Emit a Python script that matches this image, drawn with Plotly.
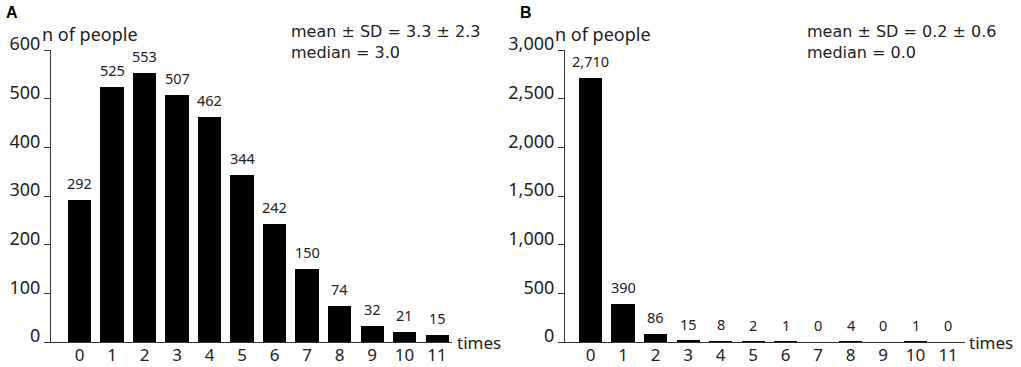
import plotly.graph_objects as go

categories = ["0", "1", "2", "3", "4", "5", "6", "7", "8", "9", "10", "11"]
values_a = [292, 525, 553, 507, 462, 344, 242, 150, 74, 32, 21, 15]
values_b = [2710, 390, 86, 15, 8, 2, 1, 0, 4, 0, 1, 0]
ticks_a = [0, 100, 200, 300, 400, 500, 600]
ticks_b = [0, 500, 1000, 1500, 2000, 2500, 3000]
stats_a = "mean ± SD = 3.3 ± 2.3<br>median = 3.0"
stats_b = "mean ± SD = 0.2 ± 0.6<br>median = 0.0"

W, H = 1021, 367
FONT = "Noto Sans"
xi = list(range(len(categories)))

fig = go.Figure()
fig.add_trace(go.Bar(x=xi, y=values_a, width=0.71, marker=dict(color="black", line=dict(width=0)),
                     xaxis="x", yaxis="y", showlegend=False))
fig.add_trace(go.Bar(x=xi, y=values_b, width=0.71, marker=dict(color="black", line=dict(width=0)),
                     xaxis="x2", yaxis="y2", showlegend=False))

ydom = [25 / H, 317 / H]
common_x = dict(tickmode="array", tickvals=xi, ticktext=categories, showline=True, linecolor="#333",
                linewidth=1.2, ticks="", showgrid=False, zeroline=False, automargin=False,
                ticklabelstandoff=-3,
                tickfont=dict(family=FONT, size=17, color="#222"))
common_y = dict(showline=True, linecolor="#333", linewidth=1.2, ticks="outside", ticklen=6,
                tickcolor="#333", showgrid=False, zeroline=False, ticklabelshift=-6, automargin=False,
                tickfont=dict(family=FONT, size=18, color="#222"))

fig.update_layout(
    width=W, height=H, margin=dict(l=0, r=0, t=0, b=0, autoexpand=False),
    paper_bgcolor="white", plot_bgcolor="white", bargap=0,
    xaxis=dict(domain=[51 / W, 452 / W], range=[-0.877, 11.46], anchor="y", **common_x),
    yaxis=dict(domain=ydom, range=[0, 600], tickvals=ticks_a, ticktext=[f"{t:,}" for t in ticks_a],
               anchor="x", **common_y),
    xaxis2=dict(domain=[565 / W, 965 / W], range=[-0.785, 11.52], anchor="y2", **common_x),
    yaxis2=dict(domain=ydom, range=[0, 3000], tickvals=ticks_b, ticktext=[f"{t:,}" for t in ticks_b],
                anchor="x2", **common_y),
)

ann = []
for xa, ya, vals in [("x", "y", values_a), ("x2", "y2", values_b)]:
    for i, v in zip(xi, vals):
        ann.append(dict(x=i, y=v, xref=xa, yref=ya, text=f"{v:,}", showarrow=False,
                        yanchor="bottom", yshift=5, font=dict(family=FONT, size=14.5, color="#222")))

for x0, letter in [(4 / W, "A"), (518 / W, "B")]:
    ann.append(dict(x=x0, y=1 - 12 / H, xref="paper", yref="paper", text=f"<b>{letter}</b>",
                    showarrow=False, xanchor="left", yanchor="middle",
                    font=dict(family="Liberation Sans", size=16, color="black")))
for x0 in [40 / W, 553 / W]:
    ann.append(dict(x=x0, y=1 - 34 / H, xref="paper", yref="paper", text="n of people",
                    showarrow=False, xanchor="left", yanchor="middle",
                    font=dict(family=FONT, size=18, color="#222")))
for x0 in [455 / W, 967 / W]:
    ann.append(dict(x=x0, y=25 / H, xref="paper", yref="paper", text="times",
                    showarrow=False, xanchor="left", yanchor="middle",
                    font=dict(family=FONT, size=17, color="#222")))
for x0, txt in [(289 / W, stats_a), (805 / W, stats_b)]:
    ann.append(dict(x=x0, y=1 - 42 / H, xref="paper", yref="paper", text=txt, align="left",
                    showarrow=False, xanchor="left", yanchor="middle",
                    font=dict(family="DejaVu Sans", size=16, color="#222")))

fig.update_layout(annotations=ann)
fig.write_html("out.html", config={"displayModeBar": False},
               post_script="document.body.style.margin='0';document.body.style.overflow='hidden';")
